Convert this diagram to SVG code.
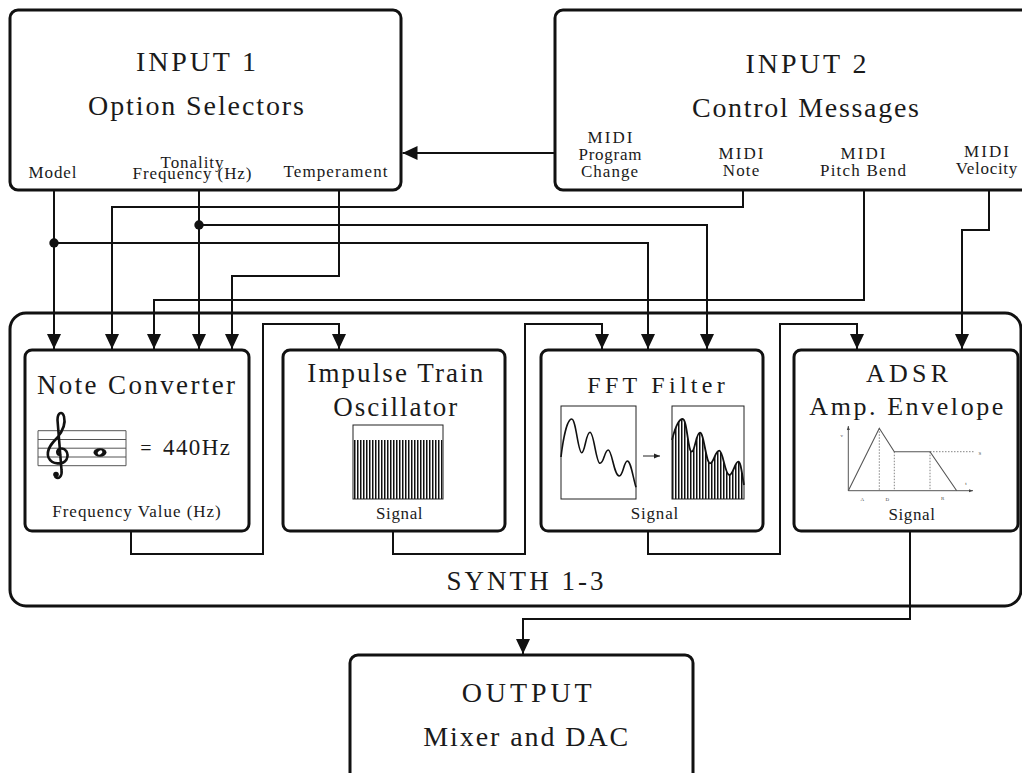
<svg xmlns="http://www.w3.org/2000/svg" width="1022" height="773" viewBox="0 0 1022 773">
  <style>
    .box { fill: #ffffff; stroke: #111111; stroke-width: 3; }
    .wire { fill: none; stroke: #111111; stroke-width: 2; }
    .arrow { marker-end: url(#head); }
    .thin { fill: none; stroke: #222222; stroke-width: 1; }
    .grey { fill: none; stroke: #555555; stroke-width: 1; }
    .dash { fill: none; stroke: #666666; stroke-width: 0.8; stroke-dasharray: 1.5 1.5; }
    .t { font-family: "Liberation Serif", "DejaVu Serif", serif; fill: #1a1a1a; text-anchor: middle; }
    .big { font-size: 28px; }
    .title { font-size: 27px; }
    .lbl { font-size: 17px; }
    .tiny { font-size: 5px; fill: #444444; }
    .dot { fill: #111111; }
  </style>
  <defs>
    <marker id="head" viewBox="0 0 15 14" markerWidth="15" markerHeight="14" refX="15" refY="7" orient="auto" markerUnits="userSpaceOnUse">
      <path d="M0,0 L15,7 L0,14 Z" fill="#111111"/>
    </marker>
    <marker id="small-head" viewBox="0 0 6 6" markerWidth="6" markerHeight="6" refX="6" refY="3" orient="auto" markerUnits="userSpaceOnUse">
      <path d="M0,0.5 L6,3 L0,5.5 Z" fill="#222222"/>
    </marker>
    <marker id="axis-head" viewBox="0 0 4 4" markerWidth="4" markerHeight="4" refX="4" refY="2" orient="auto" markerUnits="userSpaceOnUse">
      <path d="M0,0.5 L4,2 L0,3.5 Z" fill="#444444"/>
    </marker>
    <pattern id="bars" width="3" height="10" patternUnits="userSpaceOnUse">
      <rect x="0" y="0" width="1.5" height="10" fill="#111111"/>
    </pattern>
  </defs>

  <!-- synth enclosure -->
  <g id="synth">
    <rect class="box" x="10" y="313" width="1011" height="293" rx="16"/>
    <text class="t" x="525" y="590" font-size="27" textLength="157" lengthAdjust="spacing">SYNTH 1-3</text>
  </g>

  <!-- input 1: option selectors -->
  <g id="input1">
    <rect class="box" x="10" y="10" width="391" height="180" rx="8"/>
    <text class="t big" x="196" y="71" textLength="120" lengthAdjust="spacing">INPUT 1</text>
    <text class="t big" x="196" y="115" textLength="216" lengthAdjust="spacing">Option Selectors</text>
    <text class="t lbl" x="52.5" y="178" textLength="48" lengthAdjust="spacing">Model</text>
    <text class="t lbl" x="192" y="167.5" textLength="63" lengthAdjust="spacing">Tonality</text>
    <text class="t lbl" x="192" y="179" textLength="119" lengthAdjust="spacing">Frequency (Hz)</text>
    <text class="t lbl" x="335.5" y="177" textLength="104" lengthAdjust="spacing">Temperament</text>
  </g>

  <!-- input 2: control messages -->
  <g id="input2">
    <rect class="box" x="555" y="10" width="490" height="180" rx="8"/>
    <text class="t big" x="806" y="73" textLength="121" lengthAdjust="spacing">INPUT 2</text>
    <text class="t big" x="805.5" y="117" textLength="227" lengthAdjust="spacing">Control Messages</text>
    <text class="t lbl" x="610" y="142.5" textLength="45" lengthAdjust="spacing">MIDI</text>
    <text class="t lbl" x="610" y="159.5" textLength="63" lengthAdjust="spacing">Program</text>
    <text class="t lbl" x="609.5" y="176.5" textLength="57" lengthAdjust="spacing">Change</text>
    <text class="t lbl" x="741" y="159" textLength="45" lengthAdjust="spacing">MIDI</text>
    <text class="t lbl" x="741" y="176" textLength="36.5" lengthAdjust="spacing">Note</text>
    <text class="t lbl" x="863" y="159" textLength="45" lengthAdjust="spacing">MIDI</text>
    <text class="t lbl" x="863" y="176" textLength="86" lengthAdjust="spacing">Pitch Bend</text>
    <text class="t lbl" x="986.5" y="157" textLength="45" lengthAdjust="spacing">MIDI</text>
    <text class="t lbl" x="986.5" y="174" textLength="61.5" lengthAdjust="spacing">Velocity</text>
  </g>

  <!-- note converter -->
  <g id="note-converter">
    <rect class="box" x="25" y="350" width="224" height="181" rx="7"/>
    <text class="t title" x="136" y="394" textLength="198" lengthAdjust="spacing">Note Converter</text>
    <!-- staff -->
    <g class="grey">
      <path d="M38,430.7 H126 M38,439.5 H126 M38,448.2 H126 M38,457 H126 M38,465.7 H126"/>
      <path d="M38,430.7 V465.7 M126,430.7 V465.7"/>
    </g>
    <!-- treble clef -->
    <path d="M60.5,455 C57,455 56,451 59.5,449 C65,447 69.5,453 66.5,459.5 C63,465 52,465 48.5,457.5 C45.5,450 52,443 57,438 C62,432 66,424 64,416.5 C62.5,410.5 57.5,412.5 57.5,420 L61.5,470 C62.5,476.5 58.5,479.5 55.5,477" fill="none" stroke="#111111" stroke-width="2.6" stroke-linecap="round" stroke-linejoin="round"/>
    <circle cx="56" cy="474.5" r="2.8" fill="#111111"/>
    <!-- whole note, A4 -->
    <ellipse cx="100" cy="452.5" rx="6.5" ry="4.2" fill="#111111"/>
    <ellipse cx="100" cy="452.5" rx="2.6" ry="1.7" fill="#ffffff" transform="rotate(-35 100 452.5)"/>
    <text class="t" x="146" y="455" font-size="20" text-anchor="middle">=</text>
    <text class="t" x="196.5" y="455" font-size="23" textLength="67" lengthAdjust="spacing">440Hz</text>
    <text class="t lbl" x="136.5" y="517" textLength="168.5" lengthAdjust="spacing">Frequency Value (Hz)</text>
  </g>

  <!-- impulse train oscillator -->
  <g id="impulse-train">
    <rect class="box" x="283" y="350" width="222" height="181" rx="7"/>
    <text class="t title" x="395.3" y="382" textLength="176" lengthAdjust="spacing">Impulse Train</text>
    <text class="t title" x="395.3" y="416" textLength="124" lengthAdjust="spacing">Oscillator</text>
    <rect x="354" y="440" width="88.5" height="59" fill="url(#bars)"/>
    <rect class="thin" x="353" y="425" width="90" height="74"/>
    <text class="t lbl" x="399.3" y="518.5" textLength="46.5" lengthAdjust="spacing">Signal</text>
  </g>

  <!-- fft filter -->
  <g id="fft-filter">
    <rect class="box" x="541" y="350" width="222" height="181" rx="7"/>
    <text class="t" x="656" y="393" font-size="24" textLength="137.5" lengthAdjust="spacing">FFT Filter</text>
    <!-- spectrum before -->
    <rect class="thin" x="561" y="406" width="75" height="93"/>
    <path d="M561,457 C563,440 567,419 571.7,419 C576,419 578,452.7 581.7,452.7 C585,452.7 586,432.3 590,432.3 C594,432.3 596,463.3 600,463.3 C604,463.3 604.5,450 608.3,450 C612,450 614,476 619.3,476 C623,476 624,461 627.3,461 C631,461 633,478 636,487.3" fill="none" stroke="#111111" stroke-width="1.6"/>
    <!-- transform arrow -->
    <path d="M643,456 H660" fill="none" stroke="#222222" stroke-width="1" marker-end="url(#small-head)"/>
    <!-- sampled spectrum after -->
    <path d="M672,440 C675,428 679,419 682.7,419 C687,419 688,451.7 691.7,451.7 C695,451.7 696,432.7 700,432.7 C704,432.7 706,463.3 710,463.3 C714,463.3 715,450.7 719.3,450.7 C723,450.7 725,475 729.3,475 C733,475 735,461.7 738.3,461.7 C741,461.7 742,475 744,485 L744,499 L672,499 Z" fill="url(#bars)"/>
    <path d="M672,440 C675,428 679,419 682.7,419 C687,419 688,451.7 691.7,451.7 C695,451.7 696,432.7 700,432.7 C704,432.7 706,463.3 710,463.3 C714,463.3 715,450.7 719.3,450.7 C723,450.7 725,475 729.3,475 C733,475 735,461.7 738.3,461.7 C741,461.7 742,475 744,485" fill="none" stroke="#111111" stroke-width="1.8"/>
    <rect class="thin" x="672" y="406" width="72" height="93"/>
    <text class="t lbl" x="654.5" y="519" textLength="47.5" lengthAdjust="spacing">Signal</text>
  </g>

  <!-- adsr amplitude envelope -->
  <g id="adsr">
    <rect class="box" x="794" y="350" width="224" height="181" rx="7"/>
    <text class="t" x="907" y="382" font-size="26" textLength="82" lengthAdjust="spacing">ADSR</text>
    <text class="t" x="906.3" y="415" font-size="26" textLength="194" lengthAdjust="spacing">Amp. Envelope</text>
    <!-- axes -->
    <path d="M848.3,490.7 V426" fill="none" stroke="#444444" stroke-width="0.9" marker-end="url(#axis-head)"/>
    <path d="M848.3,490.7 H973" fill="none" stroke="#444444" stroke-width="0.9" marker-end="url(#axis-head)"/>
    <!-- envelope -->
    <path class="dash" d="M879.3,428.3 V490.7 M894.3,451.7 V490.7 M930,451.7 V490.7 M930,451.7 H974"/>
    <path d="M848.3,490.7 L879.3,428.3 L894.3,451.7 L930,451.7 L956.7,490.7" fill="none" stroke="#555555" stroke-width="1.1"/>
    <text class="t tiny" x="841.7" y="437">v</text>
    <text class="t tiny" x="980" y="455">S</text>
    <text class="t tiny" x="966" y="484.5">t</text>
    <text class="t tiny" x="862.3" y="501">A</text>
    <text class="t tiny" x="887.3" y="501">D</text>
    <text class="t tiny" x="942.7" y="500">R</text>
    <text class="t lbl" x="911.7" y="519.5" textLength="46.5" lengthAdjust="spacing">Signal</text>
  </g>

  <!-- output -->
  <g id="output">
    <rect class="box" x="350" y="655" width="343" height="140" rx="8"/>
    <text class="t big" x="526.7" y="701.7" textLength="130" lengthAdjust="spacing">OUTPUT</text>
    <text class="t big" x="525.8" y="745.7" textLength="205" lengthAdjust="spacing">Mixer and DAC</text>
  </g>

  <!-- signal and control routing -->
  <g id="connectors">
    <path class="wire arrow" d="M555,153 H402.5"/>
    <path class="wire arrow" d="M54,190 V349"/>
    <path class="wire arrow" d="M54,243 H648 V349"/>
    <path class="wire arrow" d="M199,190 V349"/>
    <path class="wire arrow" d="M199,225 H707 V349"/>
    <path class="wire arrow" d="M743,190 V207 H112 V349"/>
    <path class="wire arrow" d="M339,190 V276 H232 V349"/>
    <path class="wire arrow" d="M864,190 V300 H154 V349"/>
    <path class="wire arrow" d="M989,190 V230 H962 V349"/>
    <path class="wire arrow" d="M131,531 V554 H263 V324 H339 V349"/>
    <path class="wire arrow" d="M393,531 V554 H525 V324 H602 V349"/>
    <path class="wire arrow" d="M648,531 V554 H780 V324 H857 V349"/>
    <path class="wire arrow" d="M910,531 V619 H523 V654"/>
    <circle class="dot" cx="54" cy="243" r="4.7"/>
    <circle class="dot" cx="199" cy="225" r="4.7"/>
  </g>
</svg>
